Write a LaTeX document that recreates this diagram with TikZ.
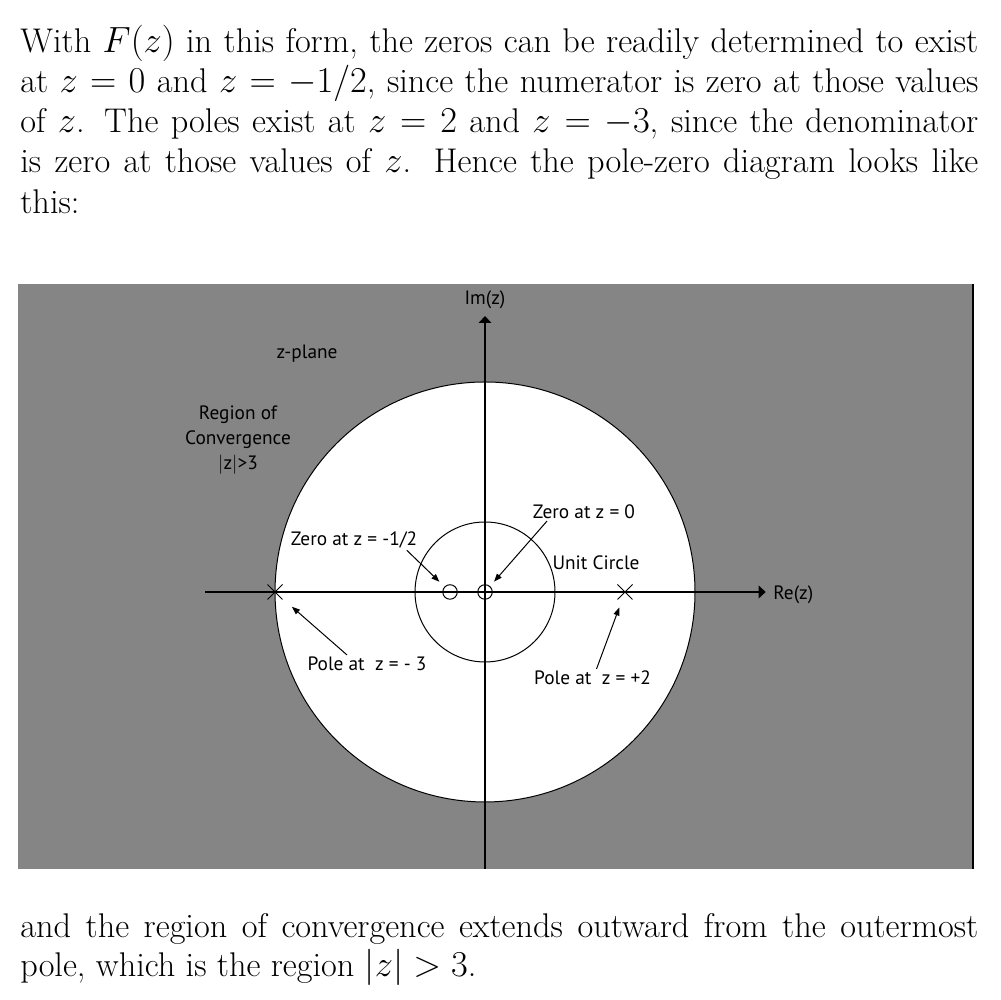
\documentclass[tikz,border=0pt]{standalone}
\usepackage{fontspec}
\usepackage{tikz}
\usetikzlibrary{arrows.meta,shapes.misc}
\newfontfamily\labelfont{PT Sans}
\definecolor{PlaneGrey}{RGB}{133,133,133}
\tikzset{
  bodyline/.style={anchor=base west, inner sep=0pt, font=\fontsize{19.5}{23}\selectfont},
  planetxt/.style={font=\labelfont\fontsize{11}{14}\selectfont, inner sep=1pt, align=center},
  axis/.style={-{Triangle[length=1.4mm, width=2.5mm]}, line width=0.35mm},
  zeromark/.style={circle, draw, line width=0.2mm, minimum size=2.9mm, inner sep=0pt},
  polemark/.style={cross out, draw, line width=0.2mm, minimum size=2.8mm, inner sep=0pt},
  lblarrow/.style={-{Triangle[length=1.6mm, width=1.2mm]}, line width=0.2mm},
}

\begin{document}
\begin{tikzpicture}[x=1.4cm, y=1.4cm]
  \useasboundingbox (-6.929,-5.829) rectangle (7.357,8.457);
  % paragraph above the plot
  \node[bodyline] (ln1) at (-6.643,7.7)
    {\makebox[19.16cm][s]{With $F(z)$ in this form, the zeros can be readily determined to exist}};
  \node[bodyline] (ln2) at (-6.643,7.129)
    {\makebox[19.16cm][s]{at $z=0$ and $z=-1/2$, since the numerator is zero at those values}};
  \node[bodyline] (ln3) at (-6.643,6.557)
    {\makebox[19.16cm][s]{of $z$.  The poles exist at $z=2$ and $z=-3$, since the denominator}};
  \node[bodyline] (ln4) at (-6.643,5.986)
    {\makebox[19.16cm][s]{is zero at those values of $z$.  Hence the pole-zero diagram looks like}};
  \node[bodyline] (ln5) at (-6.643,5.414) {this:};

  % z-plane
  \fill[PlaneGrey] (-6.671,-3.957) rectangle (6.971,4.4);
  \draw[line width=0.5mm] (6.971,-3.957) -- (6.971,4.4);
  \filldraw[fill=white, line width=0.2mm] (0,0) circle (3);
  \draw[line width=0.2mm] (0,0) circle (1);
  \draw[axis] (-4,0) -- (4.01,0) node[right, planetxt, xshift=1mm, yshift=-0.6mm] (re) {Re(z)};
  \draw[axis] (0,-3.957) -- (0,3.943);
  \node[planetxt] (im) at (0,4.171) {Im(z)};

  \node[zeromark] (z0) at (0,0) {};
  \node[zeromark] (zh) at (-0.5,0) {};
  \node[polemark] (p2) at (2,0) {};
  \node[polemark] (pm3) at (-3,0) {};

  \node[planetxt] (zplane) at (-2.543,3.4) {z-plane};
  \node[planetxt] (roc) at (-3.529,2.171) {Region of\\Convergence\\$|$z$|$>3};
  \node[planetxt] (unit) at (1.586,0.414) {Unit Circle};
  \node[planetxt] (z0lbl) at (1.414,1.143) {Zero at z = 0};
  \node[planetxt] (zhlbl) at (-1.871,0.743) {Zero at z = -1/2};
  \node[planetxt] (pm3lbl) at (-1.686,-1.029) {Pole at\ \ z = - 3};
  \node[planetxt] (p2lbl) at (1.536,-1.229) {Pole at\ \ z = +2};

  \draw[lblarrow, shorten >=1.2mm] ([xshift=-7.4mm]z0lbl.south) -- (z0);
  \draw[lblarrow, shorten >=1.4mm] ([xshift=-2.5mm]zhlbl.south east) -- (zh);
  \draw[lblarrow, shorten >=2.5mm] ([xshift=-4mm]pm3lbl.north) -- (pm3);
  \draw[lblarrow, shorten >=1.7mm] ([xshift=0.8mm]p2lbl.north) -- (p2);

  % paragraph below the plot
  \node[bodyline] (ln6) at (-6.643,-4.929)
    {\makebox[19.16cm][s]{and the region of convergence extends outward from the outermost}};
  \node[bodyline] (ln7) at (-6.643,-5.5) {pole, which is the region $|z|>3$.};
\end{tikzpicture}
\end{document}
